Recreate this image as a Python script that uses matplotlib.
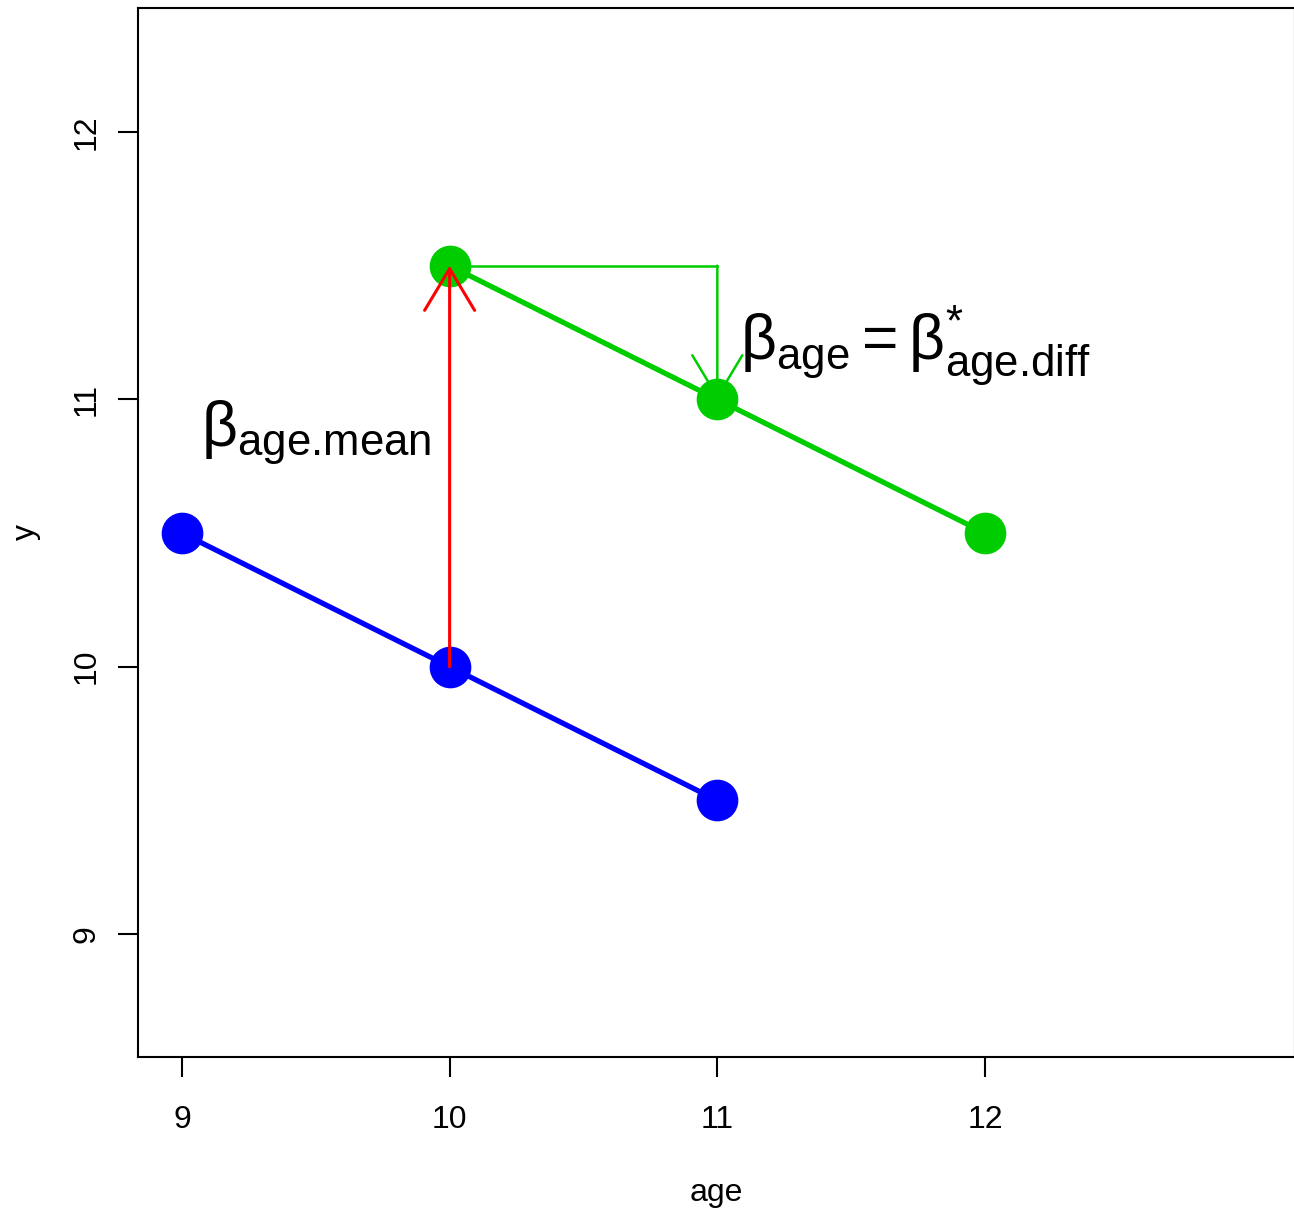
import matplotlib
matplotlib.use("Agg")
import matplotlib.pyplot as plt

plt.rcParams["font.family"] = ["Liberation Sans", "DejaVu Sans"]
plt.rcParams["mathtext.fontset"] = "custom"
plt.rcParams["mathtext.rm"] = "Liberation Sans"
plt.rcParams["mathtext.it"] = "Liberation Sans"
plt.rcParams["mathtext.bf"] = "Liberation Sans:bold"

# ─── Datos ────────────────────────────────────────────────────────────────────
age_azul = [9, 10, 11]
y_azul = [10.5, 10.0, 9.5]
age_verde = [10, 11, 12]
y_verde = [11.5, 11.0, 10.5]

# flechas / guias: (x0, y0) -> (x1, y1)
flecha_roja = ((10, 10.0), (10, 11.5))
guia_verde = ((10, 11.5), (11, 11.5))
flecha_verde = ((11, 11.5), (11, 11.0))

xticks = [9, 10, 11, 12]
yticks = [9, 10, 11, 12]

AZUL = "#0000FF"
VERDE = "#00CD00"
ROJO = "#FF0000"

W, H = 1294, 1212
fig = plt.figure(figsize=(W / 100, H / 100), dpi=100)
ax = fig.add_axes([138 / W, (H - 1057) / H, 1156.5 / W, 1049 / H])

ax.plot(age_azul, y_azul, color=AZUL, lw=3.8, zorder=2)
ax.plot(age_azul, y_azul, "o", color=AZUL, ms=29, zorder=3)
ax.plot(age_verde, y_verde, color=VERDE, lw=3.8, zorder=2)
ax.plot(age_verde, y_verde, "o", color=VERDE, ms=29, zorder=3)

# guia horizontal
ax.plot([guia_verde[0][0], guia_verde[1][0]], [guia_verde[0][1], guia_verde[1][1]],
        color=VERDE, lw=1.8, zorder=2)

ax.annotate("", xy=flecha_roja[1], xytext=flecha_roja[0],
            arrowprops=dict(arrowstyle="->,head_length=3.0,head_width=1.8",
                            color=ROJO, lw=2.2, shrinkA=0, shrinkB=0), zorder=4)
ax.annotate("", xy=flecha_verde[1], xytext=flecha_verde[0],
            arrowprops=dict(arrowstyle="->,head_length=3.0,head_width=1.8",
                            color=VERDE, lw=1.8, shrinkA=0, shrinkB=0), zorder=4)

ax.text(9.5, 10.875, r"$\mathrm{\beta}_{\text{age.mean}}$", fontsize=45,
        ha="center", va="center")
ax.text(11.74, 11.2, r"$\mathrm{\beta}_{\text{age}} = \mathrm{\beta}^{*}_{\text{age.diff}}$",
        fontsize=45, ha="center", va="center")

ax.set_xlim(8.836, 13.156)
ax.set_ylim(8.54, 12.464)
ax.set_xticks(xticks)
ax.set_yticks(yticks)
ax.set_xticklabels([str(t) for t in xticks])
ax.set_yticklabels([str(t) for t in yticks], rotation=90, va="center")
ax.tick_params(length=14.4, width=1.5, labelsize=23, pad=20)
ax.tick_params(axis="y", pad=12)
for s in ax.spines.values():
    s.set_linewidth(1.5)

ax.set_xlabel("age", fontsize=23, labelpad=31)
ax.set_ylabel("y", fontsize=23, labelpad=22)

fig.savefig("out.png", dpi=100)
